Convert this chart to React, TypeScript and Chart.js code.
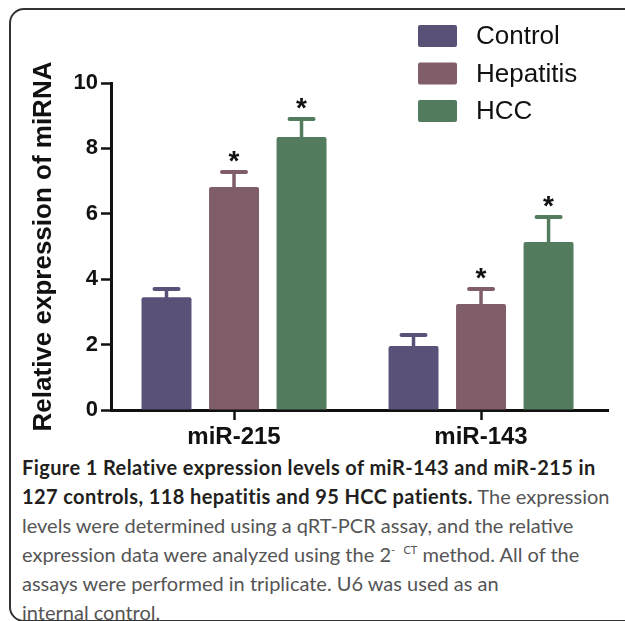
import React, { useEffect, useRef } from 'react';
import { Chart, registerables } from 'chart.js';

Chart.register(...registerables);

// ---- data ----
const categories = ['miR-215', 'miR-143'];
const seriesNames = ['Control', 'Hepatitis', 'HCC'];
const controlValues = [3.45, 1.96];
const hepatitisValues = [6.82, 3.24];
const hccValues = [8.35, 5.14];
const controlErrors = [0.25, 0.33];
const hepatitisErrors = [0.46, 0.46];
const hccErrors = [0.55, 0.76];
const controlStars = [false, false];
const hepatitisStars = [true, true];
const hccStars = [true, true];
const yTickValues = [0, 2, 4, 6, 8, 10];

const seriesColors = ['#5a5179', '#7f5e69', '#537c5f'];
const FONT = "'Liberation Sans', Arial, Helvetica, sans-serif";

const errorsBySeries = [controlErrors, hepatitisErrors, hccErrors];
const starsBySeries = [controlStars, hepatitisStars, hccStars];
const valuesBySeries = [controlValues, hepatitisValues, hccValues];

const errorBarPlugin = {
  id: 'errorBars',
  afterDatasetsDraw(chart: any) {
    const ctx = chart.ctx;
    const yScale = chart.scales.y;
    chart.data.datasets.forEach((ds: any, i: number) => {
      const meta = chart.getDatasetMeta(i);
      const errs = ds.errors as number[];
      const stars = ds.stars as boolean[];
      meta.data.forEach((bar: any, j: number) => {
        const v = ds.data[j].y;
        const top = yScale.getPixelForValue(v);
        const capY = yScale.getPixelForValue(v + errs[j]);
        const x = bar.x;
        ctx.save();
        ctx.strokeStyle = ds.backgroundColor;
        ctx.lineCap = 'round';
        ctx.lineWidth = 3.5;
        ctx.beginPath();
        ctx.moveTo(x, top + 1);
        ctx.lineTo(x, capY);
        ctx.stroke();
        ctx.lineWidth = 4;
        ctx.beginPath();
        ctx.moveTo(x - 12, capY);
        ctx.lineTo(x + 12, capY);
        ctx.stroke();
        if (stars[j]) {
          ctx.fillStyle = '#111';
          ctx.font = `bold 28px ${FONT}`;
          ctx.textAlign = 'center';
          ctx.textBaseline = 'alphabetic';
          ctx.fillText('*', x, capY - 2);
        }
        ctx.restore();
      });
    });
  },
};

const legendPlugin = {
  id: 'boxLegend',
  afterDraw(chart: any) {
    const ctx = chart.ctx;
    chart.data.datasets.forEach((ds: any, i: number) => {
      const bx = 418;
      const by = 25 + i * 37.5;
      ctx.save();
      ctx.fillStyle = ds.backgroundColor;
      ctx.beginPath();
      (ctx as any).roundRect(bx, by, 39, 22, 2);
      ctx.fill();
      ctx.fillStyle = '#111';
      ctx.font = `26px ${FONT}`;
      ctx.textAlign = 'left';
      ctx.textBaseline = 'middle';
      ctx.fillText(ds.label, 476, by + 12);
      ctx.restore();
    });
  },
};

export default function App() {
  const canvasRef = useRef<HTMLCanvasElement | null>(null);

  useEffect(() => {
    if (!canvasRef.current) return;
    const chart = new Chart(canvasRef.current, {
      type: 'bar',
      data: {
        datasets: seriesNames.map((name, i) => ({
          label: name,
          data: categories.map((_, j) => ({ x: j + 1, y: valuesBySeries[i][j] })),
          backgroundColor: seriesColors[i],
          borderWidth: 0,
          borderRadius: { topLeft: 2, topRight: 2, bottomLeft: 0, bottomRight: 0 },
          borderSkipped: false,
          categoryPercentage: 0.82,
          barPercentage: 0.74,
          errors: errorsBySeries[i],
          stars: starsBySeries[i],
        })) as any,
      },
      options: {
        animation: false,
        responsive: true,
        maintainAspectRatio: false,
        layout: { padding: { top: 83, right: 17, bottom: 0, left: 0 } },
        plugins: {
          legend: { display: false },
          tooltip: { enabled: false },
        },
        scales: {
          x: {
            type: 'linear',
            min: 0.502,
            max: 2.514,
            offset: false,
            afterFit: (scale: any) => {
              scale.height = 40;
            },
            ticks: {
              stepSize: 1,
              includeBounds: false,
              autoSkip: false,
              maxRotation: 0,
              padding: 3,
              color: '#111',
              font: { family: FONT, size: 24, weight: 'bold' },
              callback: (v: any) => categories[Math.round(Number(v)) - 1] ?? '',
            },
            grid: {
              display: true,
              offset: false,
              drawOnChartArea: false,
              drawTicks: true,
              tickLength: 10,
              tickWidth: 2.5,
              color: '#111',
            },
            border: { display: true, color: '#111', width: 3 },
          },
          y: {
            min: 0,
            max: 10,
            afterFit: (scale: any) => {
              scale.width = 111;
            },
            afterBuildTicks: (scale: any) => {
              scale.ticks = yTickValues.map((v) => ({ value: v }));
            },
            ticks: {
              padding: 3,
              color: '#111',
              font: { family: FONT, size: 22, weight: 'bold' },
            },
            grid: {
              display: true,
              drawOnChartArea: false,
              drawTicks: true,
              tickLength: 10,
              tickWidth: 2.5,
              color: '#111',
            },
            border: { display: true, color: '#111', width: 3 },
            title: {
              display: true,
              text: 'Relative expression of miRNA',
              color: '#111',
              font: { family: FONT, size: 26, weight: 'bold', lineHeight: 1 },
              padding: { top: 31, bottom: 0 },
            },
          },
        },
      } as any,
      plugins: [errorBarPlugin, legendPlugin],
    });
    return () => chart.destroy();
  }, []);

  const bold: React.CSSProperties = { fontWeight: 700, color: '#231f20', letterSpacing: '0.4px' };
  const sup: React.CSSProperties = { fontSize: 11, lineHeight: 0, position: 'relative', top: -8 };

  return (
    <div
      style={{
        position: 'fixed',
        left: 0,
        top: 0,
        width: 625,
        height: 621,
        overflow: 'hidden',
        background: '#fff',
      }}
    >
      <div
        style={{
          position: 'absolute',
          left: 9,
          top: 8,
          width: 700,
          height: 614,
          border: '2px solid #333',
          borderRadius: 15,
          boxSizing: 'border-box',
        }}
      />
      <div style={{ position: 'absolute', left: 0, top: 0, width: 625, height: 450 }}>
        <canvas ref={canvasRef} />
      </div>
      <div
        style={{
          position: 'absolute',
          left: 22,
          top: 453,
          fontFamily: "Lato, 'Open Sans', sans-serif",
          fontSize: 20,
          lineHeight: '29px',
          color: '#555',
          whiteSpace: 'nowrap',
        }}
      >
        <div><span style={bold}>Figure 1 Relative expression levels of miR-143 and miR-215 in</span></div>
        <div><span style={bold}>127 controls, 118 hepatitis and 95 HCC patients.</span> The expression</div>
        <div>levels were determined using a qRT-PCR assay, and the relative</div>
        <div>
          expression data were analyzed using the 2<span style={sup}>-</span>
          <span style={sup}>&nbsp;&nbsp;&nbsp;CT</span> method. All of the
        </div>
        <div>assays were performed in triplicate. U6 was used as an</div>
        <div>internal control.</div>
      </div>
    </div>
  );
}
